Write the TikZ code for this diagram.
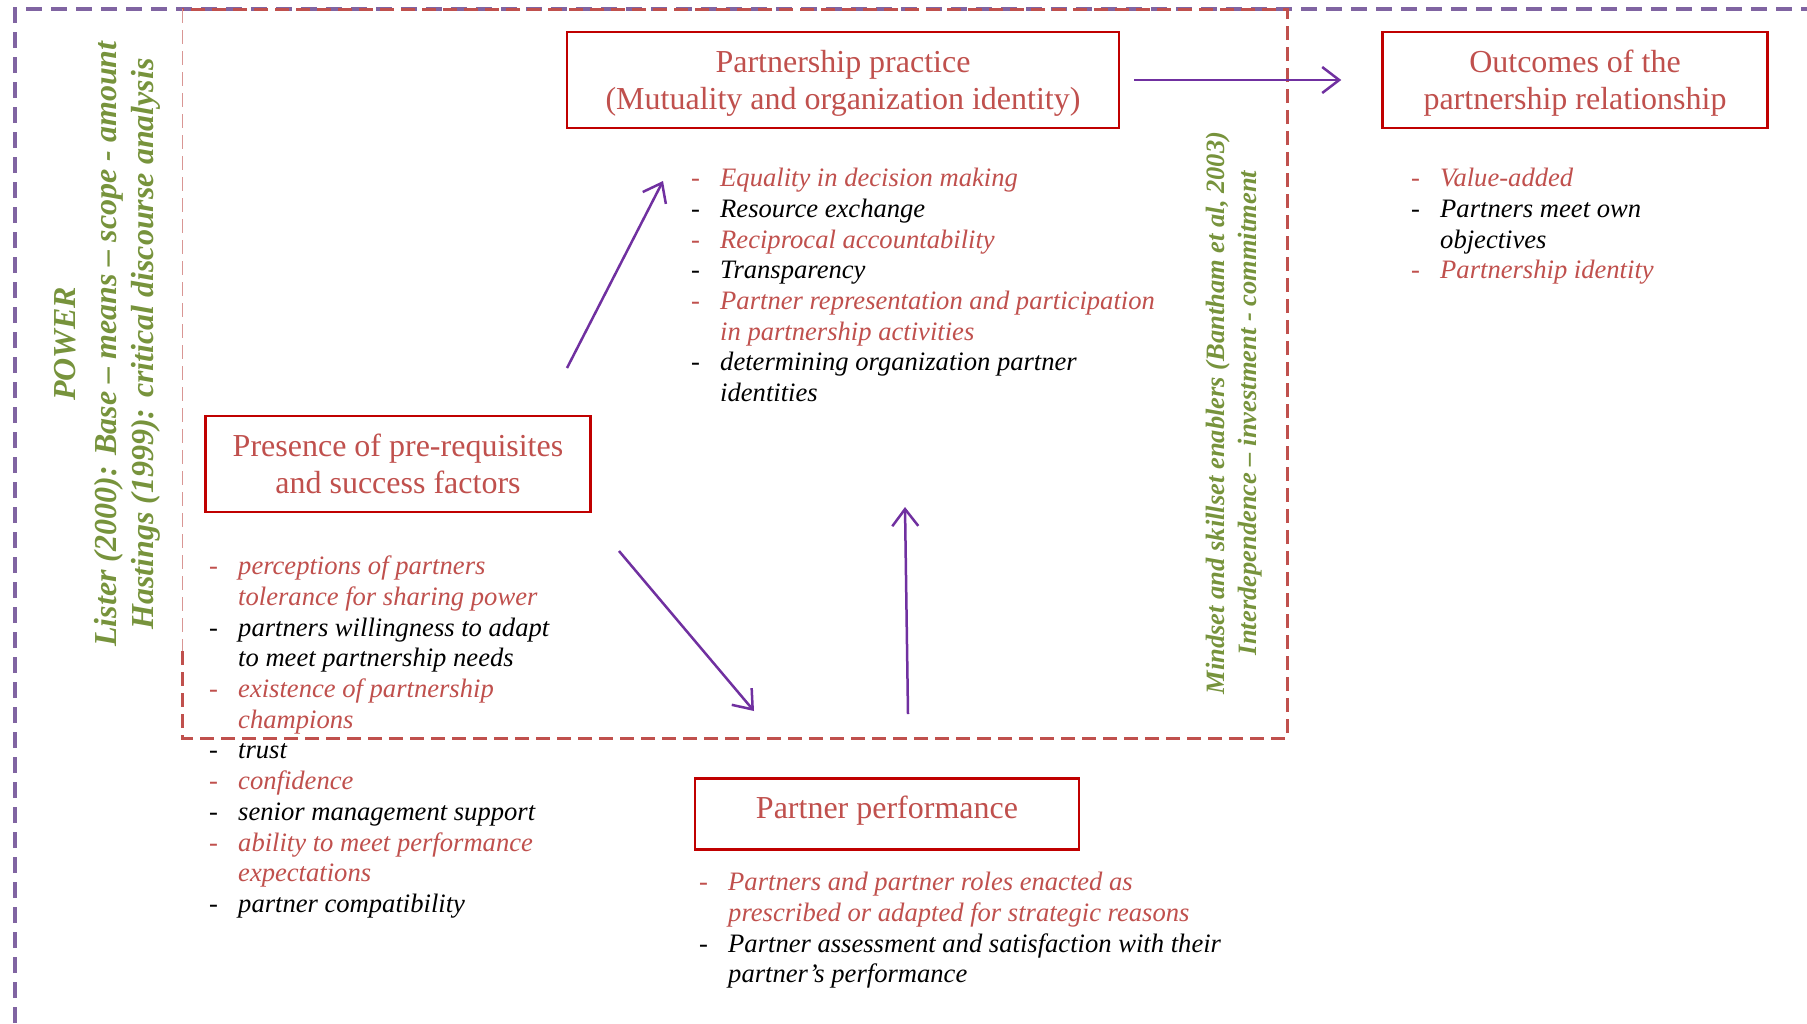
\documentclass[tikz,border=0pt]{standalone}
\usepackage{fontspec}
\setmainfont{Liberation Serif}
\usepackage{xcolor}
\usepackage{tikz}
\usetikzlibrary{positioning}
\usetikzlibrary{arrows.meta}
\definecolor{boxred}{HTML}{C00000}
\definecolor{txtred}{HTML}{C0504D}
\definecolor{framepurple}{HTML}{8064A2}
\definecolor{arrowpurple}{HTML}{7030A0}
\definecolor{greentxt}{HTML}{77933C}
\tikzset{edge/.style = {-{Straight Barb[length=17pt,width=26pt]}, draw=arrowpurple, line width=2.5pt}}
% list lines: red or black item, and its second line
\newcommand{\ritem}[1]{\textcolor{txtred}{\upshape -} & \textcolor{txtred}{#1}\\}
\newcommand{\bitem}[1]{\upshape - & #1\\}
\newcommand{\rmore}[1]{& \textcolor{txtred}{#1}\\}
\newcommand{\bmore}[1]{& #1\\}
\newenvironment{itemlist}{\begin{tabular}{@{}p{29pt}@{}l@{}}}{\end{tabular}}

\begin{document}
\begin{tikzpicture}[x=1pt,y=-1pt,
    main node/.style={draw=boxred,line width=2.5pt,text=txtred,align=center,font=\fontsize{32}{37}\selectfont,inner sep=0pt},
    list/.style={anchor=north west,inner sep=0pt,font=\fontsize{26.6}{30.7}\selectfont\itshape},
    side/.style={rotate=90,text=greentxt,align=center,inner sep=0pt}]
    \useasboundingbox[fill=white] (0,0) rectangle (1807,1023);

    % frames
    \draw[framepurple,line width=4pt,dash pattern=on 16pt off 9pt] (15,1023) -- (15,9) -- (1807,9);
    \draw[txtred,line width=3pt,dash pattern=on 14pt off 7pt] (182,651) -- (182,738) -- (1287,738) -- (1287,9) -- (182,9);
    \draw[txtred!60,line width=1pt,dash pattern=on 14pt off 7pt] (182,9) -- (182,651);

    % boxes
    \node[main node,minimum width=552pt,minimum height=96pt,text depth=0pt] (practice) at (843,80) {Partnership practice\\(Mutuality and organization identity)};
    \node[main node,minimum width=385pt,minimum height=96pt,text depth=0pt] (outcomes) at (1575,80) {Outcomes of the\\partnership relationship};
    \node[main node,minimum width=385pt,minimum height=96pt] (presence) at (398,464) {Presence of pre-requisites\\and success factors};
    \node[main node,minimum width=384pt,minimum height=71pt,text depth=13pt] (performance) at (887,814) {Partner performance};

    % lists
    \node[list] (practicelist) at (691,165) {\begin{itemlist}
        \ritem{Equality in decision making}
        \bitem{Resource exchange}
        \ritem{Reciprocal accountability}
        \bitem{Transparency}
        \ritem{Partner representation and participation}
        \rmore{in partnership activities}
        \bitem{determining organization partner}
        \bmore{identities}
    \end{itemlist}};
    \node[list] (outcomeslist) at (1411,165) {\begin{itemlist}
        \ritem{Value-added}
        \bitem{Partners meet own}
        \bmore{objectives}
        \ritem{Partnership identity}
    \end{itemlist}};
    \node[list] (presencelist) at (209,553) {\begin{itemlist}
        \ritem{perceptions of partners}
        \rmore{tolerance for sharing power}
        \bitem{partners willingness to adapt}
        \bmore{to meet partnership needs}
        \ritem{existence of partnership}
        \rmore{champions}
        \bitem{trust}
        \ritem{confidence}
        \bitem{senior management support}
        \ritem{ability to meet performance}
        \rmore{expectations}
        \bitem{partner compatibility}
    \end{itemlist}};
    \node[list] (performancelist) at (699,869) {\begin{itemlist}
        \ritem{Partners and partner roles enacted as}
        \rmore{prescribed or adapted for strategic reasons}
        \bitem{Partner assessment and satisfaction with their}
        \bmore{partner’s performance}
    \end{itemlist}};

    % side texts
    \node[side,font=\fontsize{32}{37}\selectfont\bfseries\itshape] (power) at (107,344)
        {POWER\\[4pt]Lister (2000): Base – means – scope - amount\\Hastings (1999): critical discourse analysis};
    \node[side,font=\fontsize{26.5}{32}\selectfont\bfseries\itshape] (enablers) at (1234,413)
        {Mindset and skillset enablers (Bantham et al, 2003)\\Interdependence – investment - commitment};

    % arrows
    \coordinate (up1) at (567,368);
    \coordinate (up2) at (663,181);
    \coordinate (down1) at (619,551);
    \coordinate (down2) at (754,711);
    \coordinate (back1) at (908,714);
    \coordinate (back2) at (905,507);
    \path
        (up1) edge[edge] (up2)
        (down1) edge[edge] (down2)
        (back1) edge[edge] (back2)
        (practice) edge[edge,shorten <=14pt,shorten >=40pt] (outcomes)
        ;
\end{tikzpicture}
\end{document}
